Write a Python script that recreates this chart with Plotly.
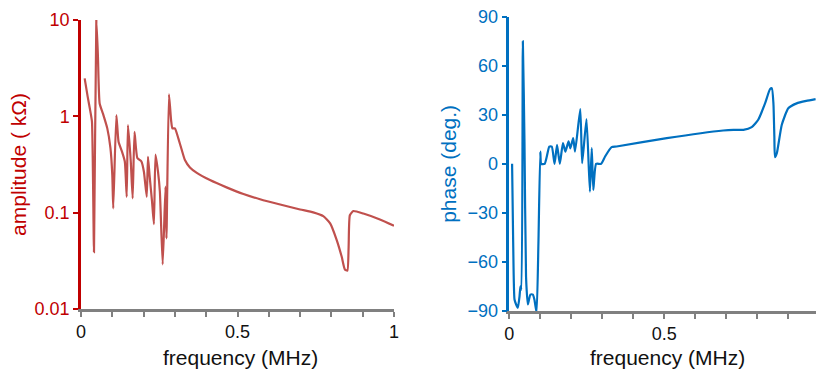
import plotly.graph_objects as go

# ---- data ----
amp_freq = [0.0117, 0.0213, 0.030, 0.035, 0.0415, 0.049, 0.054, 0.0596, 0.070, 0.084,
            0.094, 0.100, 0.103, 0.113, 0.120, 0.131, 0.140, 0.146, 0.150, 0.159,
            0.165, 0.171, 0.180, 0.193, 0.201, 0.210, 0.214, 0.219, 0.227, 0.233,
            0.238, 0.246, 0.252, 0.261, 0.270, 0.273, 0.281, 0.288, 0.292, 0.300,
            0.311, 0.322, 0.332, 0.348, 0.370, 0.412, 0.465, 0.519, 0.572, 0.630,
            0.700, 0.742, 0.774, 0.796, 0.817, 0.833, 0.843, 0.851, 0.855, 0.859,
            0.870, 0.902, 0.955, 1.000]
amp_kohm = [2.48, 1.6, 1.12, 0.88, 0.039, 10.0, 4.3, 1.36, 1.07, 0.75,
            0.47, 0.245, 0.111, 1.03, 0.545, 0.43, 0.34, 0.146, 0.81, 0.34,
            0.141, 0.69, 0.37, 0.34, 0.266, 0.146, 0.38, 0.245, 0.13, 0.076,
            0.40, 0.266, 0.165, 0.029, 0.186, 0.054, 1.69, 0.9, 0.75, 0.75,
            0.59, 0.447, 0.352, 0.295, 0.259, 0.218, 0.183, 0.156, 0.138, 0.123,
            0.108, 0.1007, 0.092, 0.0775, 0.052, 0.0348, 0.0257, 0.025, 0.044, 0.094,
            0.104, 0.098, 0.085, 0.073]

ph_freq = [0.009, 0.0125, 0.0168, 0.022, 0.0276, 0.033, 0.036, 0.039, 0.0437, 0.049,
           0.054, 0.0598, 0.068, 0.076, 0.081, 0.088, 0.094, 0.100, 0.103, 0.114,
           0.121, 0.129, 0.137, 0.146, 0.154, 0.163, 0.173, 0.181, 0.191, 0.197,
           0.206, 0.212, 0.229, 0.235, 0.249, 0.260, 0.266, 0.271, 0.280, 0.296,
           0.309, 0.330, 0.346, 0.508, 0.690, 0.723, 0.755, 0.782, 0.803, 0.825,
           0.841, 0.847, 0.852, 0.855, 0.857, 0.863, 0.879, 0.900, 0.927, 0.958,
           0.988]
ph_deg = [0, -48, -83, -86, -88, -81, -75, -77, 75, 12.7,
          -69, -86, -80, -80, -83, -91, -48, 7.5, 0, 0,
          4.5, 10.6, 10.6, 0, 11.6, 0, 12.7, 7.5, 13.7, 9.5,
          15.7, 7.5, 33.5, 0.4, 27.4, -17, 9.6, -16, 0, 0,
          4.5, 10.2, 10.6, 15.7, 20.4, 20.8, 20.8, 22.5, 27, 37,
          45.7, 46.3, 37, 16.7, 4.1, 6.5, 23.9, 34, 37, 38.5,
          39.6]

x_tickvals = [0, 0.1, 0.2, 0.3, 0.4, 0.5, 0.6, 0.7, 0.8, 0.9, 1.0]
x_ticktext = ["0", "", "", "", "", "0.5", "", "", "", "", "1"]
amp_tickvals = [0.01, 0.1, 1, 10]
amp_ticktext = ["0.01", "0.1", "1", "10"]
ph_tickvals = [-90, -60, -30, 0, 30, 60, 90]
x_title = "frequency (MHz)"

RED_AX = "#C00000"
RED_LN = "#C0504D"
BLUE = "#0070C0"
GRAY = "#808080"
FONT = "Liberation Sans, Arial, sans-serif"

fig = go.Figure()
fig.add_trace(go.Scatter(x=amp_freq, y=amp_kohm, mode="lines",
                         line=dict(color=RED_LN, width=2.2, shape="spline", smoothing=0.5),
                         xaxis="x", yaxis="y", showlegend=False))
fig.add_trace(go.Scatter(x=ph_freq, y=ph_deg, mode="lines",
                         line=dict(color=BLUE, width=2.2, shape="spline", smoothing=0.5),
                         xaxis="x2", yaxis="y2", showlegend=False))

W, H = 816, 371
common_x = dict(showgrid=False, zeroline=False, showline=True, linecolor=GRAY,
                linewidth=2.5, ticks="outside", ticklen=5, tickwidth=2, tickcolor=GRAY,
                tickvals=x_tickvals, ticktext=x_ticktext,
                tickfont=dict(size=18, color="#111111", family=FONT),
                automargin=False)

fig.update_layout(
    width=W, height=H,
    margin=dict(l=0, r=0, t=0, b=0),
    paper_bgcolor="white", plot_bgcolor="white",
    font=dict(family=FONT),
    xaxis=dict(domain=[81 / W, 394 / W], range=[0, 1], anchor="y", **common_x),
    yaxis=dict(domain=[(H - 309) / H, (H - 20) / H], type="log", range=[-2, 1],
               anchor="x", showgrid=False, zeroline=False, showline=True,
               linecolor=RED_AX, linewidth=2.5, ticks="outside", ticklen=5,
               tickwidth=2, tickcolor=RED_AX, tickvals=amp_tickvals,
               ticktext=amp_ticktext, tickfont=dict(size=18, color=RED_AX),
               title=dict(text="amplitude ( kΩ)", font=dict(size=21, color=RED_AX),
                          standoff=3),
               automargin=False),
    xaxis2=dict(domain=[509.3 / W, 1.0], range=[0, (W - 509.3) / 310], anchor="y2",
                **common_x),
    yaxis2=dict(domain=[(H - 311) / H, (H - 16.7) / H], range=[-90, 90],
                anchor="x2", showgrid=False, zeroline=False, showline=True,
                linecolor=BLUE, linewidth=2.5, ticks="outside", ticklen=5,
                tickwidth=2, tickcolor=BLUE, tickvals=ph_tickvals,
                tickfont=dict(size=18, color=BLUE),
                title=dict(text="phase (deg.)", font=dict(size=21, color=BLUE),
                           standoff=6),
                automargin=False),
)

for cx in (240, 667):
    fig.add_annotation(text=x_title, xref="paper", yref="paper",
                       x=cx / W, y=0.0, xanchor="center", yanchor="bottom",
                       showarrow=False, font=dict(size=21, color="#111111", family=FONT))

fig.write_html("out.html")
